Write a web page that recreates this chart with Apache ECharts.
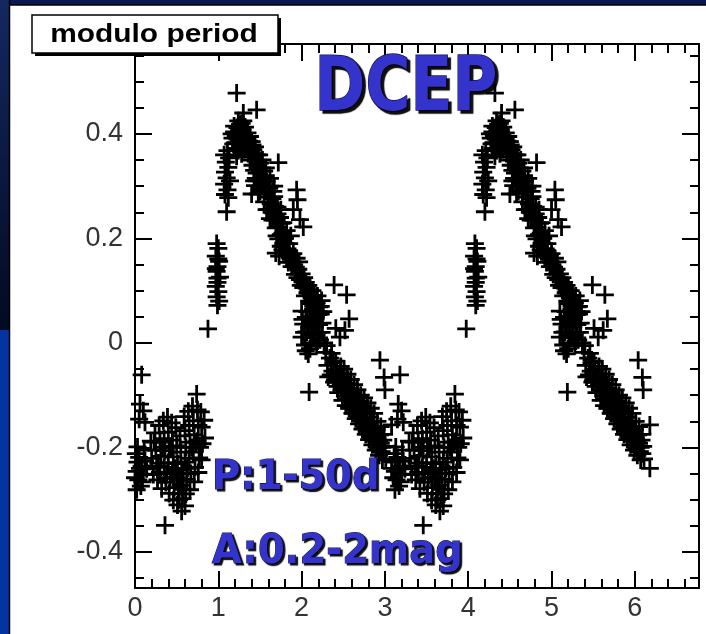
<!DOCTYPE html>
<html>
<head>
<meta charset="utf-8">
<title>DCEP modulo period</title>
<script src="https://cdn.jsdelivr.net/npm/echarts@6/dist/echarts.min.js"></script>
<style>
html, body { margin: 0; padding: 0; background: #fff; }
#chart { width: 706px; height: 634px; }
</style>
</head>
<body>
<div id="chart"></div>
<script>
// one folded cycle of the light curve, [phase, mag]
var minimumLeft = [[0.08,-0.061],[0.06,-0.117],[0.1,-0.13],[0.05,-0.146],[0.12,-0.152],
	[0.01,-0.212],[0.03,-0.228],[0.02,-0.246],[0.05,-0.219],[0.08,-0.236],[0.04,-0.262],[0.1,-0.251],
	[0.07,-0.274],[0.12,-0.226],[0.0,-0.258],[0.14,-0.241],[0.03,-0.199],[0.09,-0.266],[0.11,-0.205],
	[0.02,-0.281],[0.06,-0.24]];
var minimumMain = [[0.19,-0.188],[0.2,-0.221],[0.22,-0.252],[0.24,-0.172],[0.25,-0.205],[0.26,-0.236],[0.27,-0.262],
	[0.29,-0.158],[0.3,-0.19],[0.31,-0.217],[0.3,-0.248],[0.32,-0.279],
	[0.34,-0.149],[0.35,-0.183],[0.36,-0.206],[0.35,-0.238],[0.37,-0.267],
	[0.39,-0.142],[0.4,-0.171],[0.41,-0.198],[0.4,-0.229],[0.42,-0.258],[0.41,-0.288],
	[0.44,-0.153],[0.45,-0.186],[0.46,-0.218],[0.45,-0.247],[0.47,-0.277],[0.46,-0.301],
	[0.49,-0.162],[0.5,-0.197],[0.51,-0.231],[0.5,-0.259],[0.52,-0.289],[0.51,-0.31],
	[0.54,-0.178],[0.55,-0.209],[0.56,-0.242],[0.55,-0.272],[0.57,-0.298],[0.56,-0.322],
	[0.59,-0.141],[0.6,-0.168],[0.61,-0.2],[0.6,-0.228],[0.62,-0.261],[0.61,-0.289],[0.6,-0.312],
	[0.64,-0.131],[0.65,-0.158],[0.66,-0.19],[0.65,-0.221],[0.67,-0.25],[0.66,-0.281],
	[0.69,-0.121],[0.7,-0.149],[0.71,-0.176],[0.7,-0.209],[0.72,-0.238],[0.71,-0.266],
	[0.74,-0.098],[0.75,-0.128],[0.76,-0.158],[0.75,-0.188],[0.77,-0.22],[0.76,-0.248],
	[0.79,-0.132],[0.8,-0.161],[0.81,-0.193],[0.8,-0.224],
	[0.83,-0.148],[0.84,-0.182],[0.36,-0.349],
	[0.23,-0.19],[0.28,-0.23],[0.33,-0.2],[0.38,-0.25],[0.43,-0.2],[0.48,-0.24],[0.53,-0.26],
	[0.58,-0.25],[0.63,-0.24],[0.68,-0.2],[0.73,-0.19],[0.78,-0.2],[0.53,-0.3],[0.58,-0.28]];
var risingLow = [[0.876,0.027],
	[0.98,0.19],[1.0,0.181],[0.97,0.166],[1.01,0.156],[0.99,0.146],[0.98,0.137],[1.02,0.126],[0.99,0.116],
	[0.97,0.108],[1.0,0.098],[0.98,0.088],[1.01,0.08],[0.99,0.072],[1.0,0.161],[0.99,0.124],[0.97,0.142]];
var risingHigh = [[1.1,0.251],[1.08,0.284],[1.11,0.293],[1.07,0.304],[1.1,0.316],[1.08,0.327],[1.12,0.336],
	[1.09,0.346],[1.13,0.354],[1.07,0.36],[1.11,0.368],[1.14,0.31],[1.12,0.278]];
var peak = [[1.22,0.478],[1.3,0.44],[1.46,0.446],
	[1.17,0.392],[1.19,0.404],[1.21,0.383],[1.23,0.412],[1.25,0.396],[1.27,0.381],[1.24,0.368],[1.29,0.407],
	[1.31,0.391],[1.33,0.376],[1.35,0.402],[1.37,0.386],[1.39,0.37],[1.2,0.372],[1.28,0.362],[1.34,0.394],
	[1.41,0.379],[1.26,0.418],[1.32,0.413],[1.18,0.381],[1.22,0.357],[1.43,0.362],[1.36,0.368],
	[1.16,0.4],[1.19,0.415],[1.21,0.395],[1.23,0.39],[1.25,0.405],[1.27,0.395],[1.29,0.385],[1.31,0.37],
	[1.33,0.395],[1.35,0.38],[1.37,0.37],[1.38,0.395],[1.4,0.385],[1.24,0.425],[1.28,0.42],[1.3,0.425],
	[1.42,0.37],[1.44,0.375]];
var decline = [[1.4,0.285],[1.44,0.301],
	[1.42,0.356],[1.45,0.348],[1.47,0.36],[1.48,0.333],[1.5,0.344],[1.52,0.318],[1.53,0.304],[1.55,0.329],
	[1.56,0.291],[1.58,0.309],[1.6,0.279],[1.61,0.296],[1.63,0.266],[1.65,0.276],[1.66,0.249],[1.68,0.261],
	[1.7,0.236],[1.71,0.247],[1.73,0.221],[1.75,0.207],[1.72,0.199],[1.76,0.229],[1.78,0.191],[1.8,0.176],
	[1.69,0.172],[1.73,0.166],[1.77,0.178],[1.82,0.169],[1.86,0.166],[1.9,0.171],[1.94,0.162],[1.84,0.154],
	[1.88,0.146],[1.92,0.131],[1.96,0.141],[1.98,0.121],[2.0,0.132],[2.02,0.106],[2.05,0.116],[2.07,0.096],
	[2.1,0.101],[2.12,0.086],[2.15,0.091],[2.18,0.076],[2.21,0.069],[2.24,0.081],[1.62,0.238],[1.58,0.255],
	[1.38,0.35],[1.41,0.34],[1.43,0.33],[1.46,0.325],[1.49,0.36],[1.51,0.3],[1.54,0.31],[1.57,0.32],
	[1.59,0.29],[1.62,0.3],[1.64,0.25],[1.67,0.28],[1.69,0.22],[1.71,0.26],[1.74,0.24],[1.77,0.21],
	[1.79,0.2],[1.81,0.19],[1.83,0.18],[1.85,0.175],[1.87,0.16],[1.89,0.155],[1.91,0.15],[1.93,0.145],
	[1.95,0.125],[1.97,0.155],[1.99,0.11],[2.01,0.12],[2.03,0.125],[2.04,0.09],[2.06,0.105],[2.08,0.11],
	[2.09,0.08],[2.11,0.075],[2.13,0.1],[2.14,0.07],[2.16,0.08],[2.19,0.09],[2.2,0.06],[2.23,0.07],
	[1.66,0.29],[1.52,0.335],[1.47,0.31],
	[1.45,0.315],[1.5,0.29],[1.55,0.27],[1.6,0.255],[1.65,0.235],[1.7,0.205],[1.75,0.185],[1.8,0.2],
	[1.85,0.19],[1.62,0.315],[1.67,0.3],[1.57,0.335],[1.53,0.35],[1.78,0.23],[1.82,0.215],[1.48,0.285],
	[1.43,0.31],[1.75,0.255],[1.68,0.235],
	[1.72,0.345],[1.94,0.293],[1.95,0.274],[1.9,0.255],[1.98,0.236],[2.02,0.222],[1.87,0.205]];
var column = [[2.0,0.061],[2.05,0.049],[2.02,0.036],[2.1,0.041],[2.06,0.021],[2.0,0.011],[2.12,0.016],
	[2.04,-0.004],[2.1,-0.011],[2.16,0.031],[2.2,0.054],[2.22,0.006],[2.25,0.038],[2.08,-0.021],[2.14,0.064],
	[2.01,0.045],[2.03,0.02],[2.07,0.06],[2.09,0.03],[2.11,0.0],[2.13,0.045],[2.15,0.01],[2.17,0.05],
	[2.19,0.02],[2.21,0.035],[2.23,0.055],[2.05,-0.015],[2.18,-0.005],[2.24,0.02],[2.27,0.0],[2.26,0.06],
	[2.09,-0.094],
	[2.39,0.111],[2.54,0.092],[2.57,0.046],[2.41,0.028],[2.46,0.011],[2.52,0.024]];
var tail = [[2.29,-0.018],[2.31,-0.043],[2.34,-0.029],[2.35,-0.061],[2.38,-0.038],[2.4,-0.071],[2.42,-0.052],
	[2.43,-0.083],[2.46,-0.058],[2.48,-0.091],[2.5,-0.066],[2.52,-0.102],[2.54,-0.077],[2.56,-0.108],
	[2.58,-0.087],[2.6,-0.121],[2.62,-0.094],[2.64,-0.129],[2.66,-0.103],[2.68,-0.141],[2.7,-0.112],
	[2.72,-0.149],[2.74,-0.121],[2.76,-0.161],[2.78,-0.131],[2.8,-0.169],[2.82,-0.142],[2.84,-0.181],
	[2.86,-0.151],[2.88,-0.188],[2.9,-0.166],[2.92,-0.201],[2.94,-0.176],[2.96,-0.208],[2.98,-0.186],
	[2.99,-0.212],[3.0,-0.198],[3.01,-0.222],[2.97,-0.224],
	[2.45,-0.072],[2.55,-0.093],[2.65,-0.116],[2.75,-0.142],[2.85,-0.166],[2.95,-0.192],[2.37,-0.054],
	[2.61,-0.106],[2.71,-0.131],[2.81,-0.156],[2.91,-0.181],
	[2.3,-0.005],[2.32,-0.065],[2.36,-0.02],[2.39,-0.075],[2.41,-0.035],[2.44,-0.095],[2.47,-0.045],
	[2.49,-0.11],[2.51,-0.05],[2.53,-0.12],[2.55,-0.06],[2.57,-0.125],[2.59,-0.07],[2.61,-0.135],
	[2.63,-0.08],[2.65,-0.145],[2.67,-0.09],[2.69,-0.155],[2.71,-0.1],[2.73,-0.165],[2.75,-0.105],
	[2.77,-0.175],[2.79,-0.115],[2.81,-0.185],[2.83,-0.125],[2.85,-0.195],[2.87,-0.135],[2.89,-0.205],
	[2.91,-0.15],[2.93,-0.215],[2.95,-0.16],[2.97,-0.2],[2.99,-0.175],[2.47,-0.08],[2.57,-0.1],
	[2.67,-0.125],[2.77,-0.15],[2.87,-0.17],[2.53,-0.085],[2.63,-0.11],[2.73,-0.135],[2.83,-0.16],[2.93,-0.19],
	[2.94,-0.033],[2.99,-0.066],[3.0,-0.09],[3.08,-0.157],[3.08,-0.24]];

var period = 3.1;
var xMajor = [0, 1, 2, 3, 4, 5, 6];
var xMinor = [0.2,0.4,0.6,0.8,1.2,1.4,1.6,1.8,2.2,2.4,2.6,2.8,3.2,3.4,3.6,3.8,
	4.2,4.4,4.6,4.8,5.2,5.4,5.6,5.8,6.2,6.4,6.6];
var yMajor = [-0.4, -0.2, 0, 0.2, 0.4];
var yMinor = [-0.45,-0.35,-0.3,-0.25,-0.15,-0.1,-0.05,0.05,0.1,0.15,0.25,0.3,0.35,0.45,0.5,0.55];
var xRange = [0, 6.77];
var yRange = [-0.469, 0.572];

// the folded curve is drawn twice, one period apart (modulo period)
var cycle = [].concat(minimumLeft, minimumMain, risingLow, risingHigh, peak, decline, column, tail);
var points = [];
[0, 1].forEach(function (k) {
	cycle.forEach(function (p) {
		points.push([p[0] + k * period, p[1]]);
	});
});

var plusMarker = 'path://M7.6,0H10.4V7.6H18V10.4H10.4V18H7.6V10.4H0V7.6H7.6Z';
var labelFont = {fontSize: 27, color: '#333', fontFamily: '"Liberation Sans", Arial, sans-serif'};

function makeAxis(position, range, ticks, tickLen, showLine, showLabel, margin) {
	return {
		type: 'value',
		position: position,
		min: range[0],
		max: range[1],
		axisLine: {show: showLine, onZero: false, lineStyle: {color: '#000', width: 2}},
		axisTick: {show: true, inside: true, length: tickLen, customValues: ticks,
			lineStyle: {color: '#000', width: 2}},
		axisLabel: {show: showLabel, customValues: ticks, margin: margin,
			fontSize: labelFont.fontSize, color: labelFont.color, fontFamily: labelFont.fontFamily},
		splitLine: {show: false},
		minorTick: {show: false}
	};
}

function blueText(text, x, y, size, sx, shadow) {
	return {
		type: 'text', z: 60, x: x, y: y, scaleX: sx,
		style: {
			text: text, fontSize: size, fontWeight: 'bold', fontFamily: '"DejaVu Sans", sans-serif',
			fill: '#3434cc', stroke: '#14145a', lineWidth: shadow > 2 ? 1.6 : 1.1,
			textShadowColor: 'rgba(0,0,0,0.95)', textShadowOffsetX: shadow, textShadowOffsetY: shadow,
			textShadowBlur: 1,
			shadowColor: 'rgba(0,0,0,0.95)', shadowOffsetX: shadow, shadowOffsetY: shadow, shadowBlur: 1,
			align: x > 300 ? 'center' : 'left', verticalAlign: 'middle'
		}
	};
}

var myChart = echarts.init(document.getElementById('chart'));
var option = {
	animation: false,
	backgroundColor: '#fff',
	grid: {left: 135, right: 7, top: 44, bottom: 46},
	xAxis: [
		makeAxis('bottom', xRange, xMajor, 17, true, true, 7),
		makeAxis('bottom', xRange, xMinor, 9, false, false, 0),
		makeAxis('top', xRange, xMajor, 17, true, false, 0),
		makeAxis('top', xRange, xMinor, 9, false, false, 0)
	],
	yAxis: [
		makeAxis('left', yRange, yMajor, 17, true, true, 12),
		makeAxis('left', yRange, yMinor, 9, false, false, 0),
		makeAxis('right', yRange, yMajor, 17, true, false, 0),
		makeAxis('right', yRange, yMinor, 9, false, false, 0)
	],
	series: [{
		type: 'scatter',
		xAxisIndex: 0,
		yAxisIndex: 0,
		symbol: plusMarker,
		symbolSize: 18,
		itemStyle: {color: '#000', opacity: 1},
		silent: true,
		data: points
	}],
	graphic: {elements: [
		// slide border
		{type: 'rect', z: -10, shape: {x: 0, y: 0, width: 706, height: 5}, style: {fill: '#0b1850'}},
		{type: 'rect', z: -10, shape: {x: 0, y: 0, width: 9, height: 330},
			style: {fill: new echarts.graphic.LinearGradient(0, 0, 0, 1,
				[{offset: 0, color: '#142760'}, {offset: 1, color: '#020a22'}])}},
		{type: 'rect', z: -10, shape: {x: 0, y: 330, width: 9, height: 304}, style: {fill: '#0434a2'}},
		{type: 'line', z: -9, shape: {x1: 9.5, y1: 0, x2: 9.5, y2: 634}, style: {stroke: '#000', lineWidth: 1.5}},
		{type: 'line', z: -9, shape: {x1: 9, y1: 5, x2: 706, y2: 5}, style: {stroke: '#000', lineWidth: 1.5}},
		// title box
		{type: 'rect', z: 50, shape: {x: 35, y: 18, width: 246, height: 38}, style: {fill: '#000'}},
		{type: 'rect', z: 51, shape: {x: 32, y: 15, width: 246, height: 38},
			style: {fill: '#fff', stroke: '#000', lineWidth: 1.5}},
		{type: 'text', z: 52, x: 154, y: 35, scaleX: 1.15,
			style: {text: 'modulo period', fontSize: 26, fontWeight: 'bold',
				fontFamily: '"Liberation Sans", Arial, sans-serif', fill: '#000',
				align: 'center', verticalAlign: 'middle'}},
		// annotations
		blueText('DCEP', 406, 91, 74, 0.83, 3),
		blueText('P:1-50d', 212, 478, 41, 0.94, 2),
		blueText('A:0.2-2mag', 212, 552, 41, 0.94, 2)
	]}
};
myChart.setOption(option);
</script>
</body>
</html>
